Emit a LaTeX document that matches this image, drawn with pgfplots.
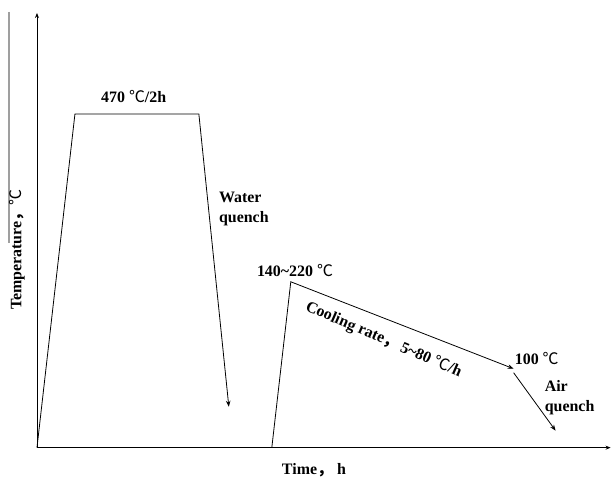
\documentclass[border=0pt]{standalone}
\usepackage{fontspec}
\setmainfont{Liberation Serif}
\newfontfamily\cjk{Noto Sans CJK SC}
\usepackage{pgfplots}
\pgfplotsset{compat=1.18}
\usetikzlibrary{arrows.meta}
\newcommand{\degC}{{\cjk\fontseries{m}\selectfont ℃}}
\newcommand{\fcomma}{{\cjk ，}}
\begin{document}
\begin{tikzpicture}[lbl/.style={font=\fontsize{16}{19}\selectfont\bfseries, inner sep=0pt}]
\begin{axis}[
  scale only axis, width=611bp, height=477bp,
  xmin=0, xmax=611, ymin=0, ymax=477,
  axis line style={draw=none}, ticks=none,
  clip=false,
]
% frame for bounding box
\addplot[draw=none] coordinates {(0,0) (611,477)};
% gray stray line
\addplot[gray!75, line width=1.6pt] coordinates {(9,465) (9,234)};
% axes
\addplot[black, line width=0.9pt, -{Stealth[length=5pt,width=4pt]}] coordinates {(37,29) (37,464)};
\addplot[black, line width=0.9pt, -{Stealth[length=5pt,width=4pt]}] coordinates {(37,29) (611,29)};
% solution treatment
\addplot[black, line width=0.8pt, -{Stealth[length=6pt,width=4.5pt]}] coordinates {(37,29) (75,363) (199,363) (229,70)};
% ageing
\addplot[black, line width=0.8pt, -{Stealth[length=6pt,width=4.5pt]}] coordinates {(272,29) (291,195) (514,108)};
% air quench
\addplot[black, line width=0.8pt, -{Stealth[length=6pt,width=4.5pt]}] coordinates {(514,104) (556,46)};
% labels
\node[lbl, anchor=base west] at (axis cs:101,374) {470 \degC/2h};
\node[lbl, anchor=base west] at (axis cs:219,274) {Water};
\node[lbl, anchor=base west] at (axis cs:219,254) {quench};
\node[lbl, anchor=base west] at (axis cs:257,200) {140\textasciitilde220 \degC};
\node[lbl, rotate=-23.5] at (axis cs:384,137) {Cooling rate\fcomma\,5\textasciitilde80 \degC/h};
\node[lbl, anchor=base west] at (axis cs:515,112) {100 \degC};
\node[lbl, anchor=base west] at (axis cs:545,85) {Air};
\node[lbl, anchor=base west] at (axis cs:545,65) {quench};
\node[lbl, anchor=base west] at (axis cs:282,2) {Time\fcomma\ h};
\node[lbl, rotate=90] at (axis cs:17,227) {Temperature\fcomma\degC};
\end{axis}
\end{tikzpicture}
\end{document}
